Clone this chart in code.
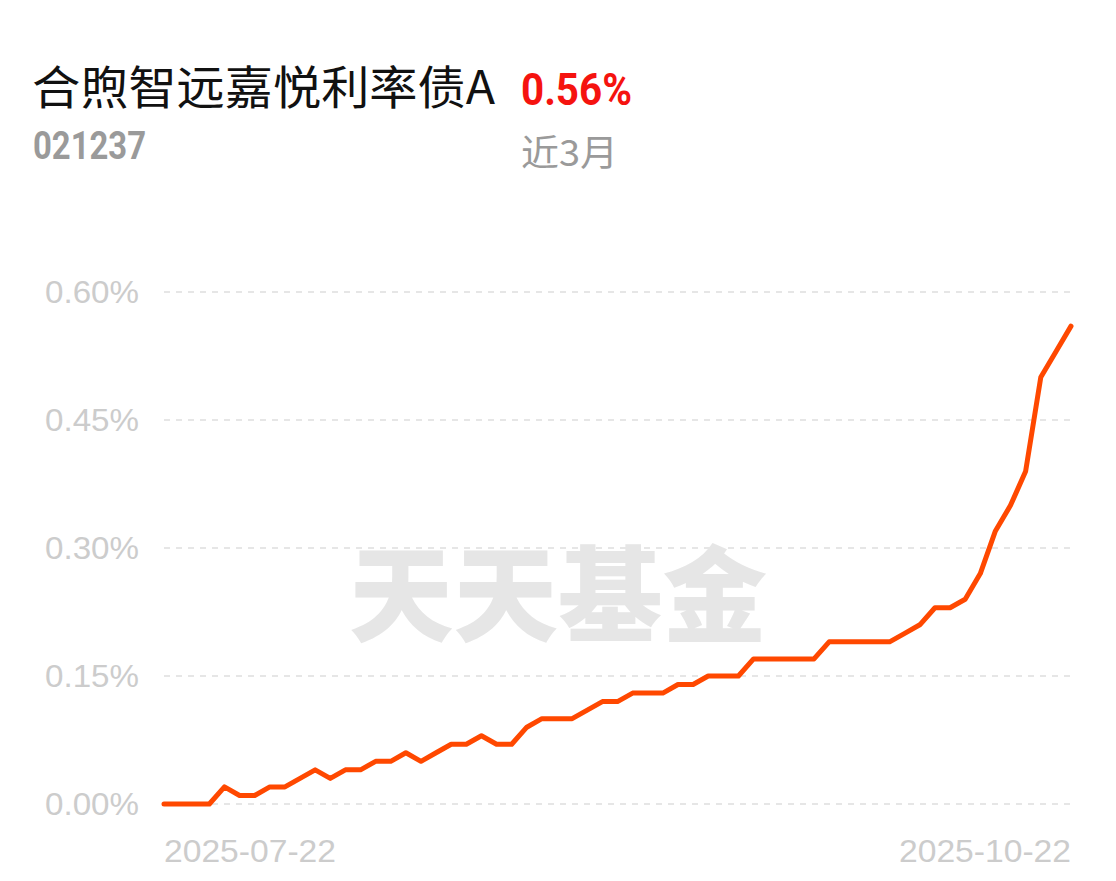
<!DOCTYPE html>
<html>
<head>
<meta charset="utf-8">
<script src="https://cdn.jsdelivr.net/npm/d3@7"></script>
<style>
  html, body { margin: 0; padding: 0; background: #fff; }
  svg { display: block; }
</style>
</head>
<body>
<div id="chart"></div>
<script>
// fund info
const fundName = "合煦智远嘉悦利率债A";
const fundCode = "021237";
const periodReturn = "0.56%";
const periodLabel = "近3月";

// cumulative return (%) per trading day, 2025-07-22 .. 2025-10-22
const returns = [
  0, 0, 0, 0, 0.02, 0.01, 0.01, 0.02, 0.02, 0.03,
  0.04, 0.03, 0.04, 0.04, 0.05, 0.05, 0.06, 0.05, 0.06, 0.07,
  0.07, 0.08, 0.07, 0.07, 0.09, 0.10, 0.10, 0.10, 0.11, 0.12,
  0.12, 0.13, 0.13, 0.13, 0.14, 0.14, 0.15, 0.15, 0.15, 0.17,
  0.17, 0.17, 0.17, 0.17, 0.19, 0.19, 0.19, 0.19, 0.19, 0.20,
  0.21, 0.23, 0.23, 0.24, 0.27, 0.32, 0.35, 0.39, 0.50, 0.53,
  0.56
];
const yTicks = [0, 0.15, 0.30, 0.45, 0.60];
const xLabels = ["2025-07-22", "2025-10-22"];

const width = 1116;
const height = 881;
const margin = { left: 164, right: 45, top: 292, bottom: 77 };

const svg = d3
  .select("#chart")
  .append("svg")
  .attr("width", width)
  .attr("height", height);

const x = d3
  .scaleLinear()
  .domain([0, returns.length - 1])
  .range([margin.left, width - margin.right]);

const y = d3
  .scaleLinear()
  .domain([0, 0.6])
  .range([height - margin.bottom, margin.top]);

// header
svg
  .append("text")
  .attr("x", 32)
  .attr("y", 104)
  .attr("font-family", "'Noto Sans CJK SC', 'Noto Sans', sans-serif")
  .attr("font-size", 46)
  .attr("textLength", 463)
  .attr("lengthAdjust", "spacingAndGlyphs")
  .attr("fill", "#111")
  .text(fundName);

svg
  .append("text")
  .attr("x", 521)
  .attr("y", 105)
  .attr("font-family", "Roboto, 'Noto Sans', sans-serif")
  .attr("font-weight", "bold")
  .attr("font-size", 45)
  .attr("textLength", 111)
  .attr("lengthAdjust", "spacingAndGlyphs")
  .attr("fill", "#f5130f")
  .text(periodReturn);

svg
  .append("text")
  .attr("x", 33)
  .attr("y", 159)
  .attr("font-family", "Roboto, 'Noto Sans', sans-serif")
  .attr("font-weight", "bold")
  .attr("font-size", 38)
  .attr("textLength", 113)
  .attr("lengthAdjust", "spacingAndGlyphs")
  .attr("fill", "#9a9a9a")
  .text(fundCode);

svg
  .append("text")
  .attr("x", 521)
  .attr("y", 166)
  .attr("font-family", "'Noto Sans CJK SC', sans-serif")
  .attr("font-size", 36)
  .attr("textLength", 97)
  .attr("lengthAdjust", "spacingAndGlyphs")
  .attr("fill", "#9a9a9a")
  .text(periodLabel);

// watermark
svg
  .append("text")
  .attr("x", 558)
  .attr("y", 634)
  .attr("text-anchor", "middle")
  .attr("font-family", "'Noto Sans CJK SC', sans-serif")
  .attr("font-weight", 900)
  .attr("font-size", 104)
  .attr("textLength", 418)
  .attr("lengthAdjust", "spacingAndGlyphs")
  .attr("fill", "#e6e6e6")
  .text("天天基金");

// grid + y labels
const yAxis = svg.append("g").attr("class", "y-axis");

yAxis
  .selectAll("line")
  .data(yTicks)
  .enter()
  .append("line")
  .attr("x1", margin.left)
  .attr("x2", width - margin.right)
  .attr("y1", (d) => y(d))
  .attr("y2", (d) => y(d))
  .attr("stroke", "#e6e6e6")
  .attr("stroke-width", 2)
  .attr("stroke-dasharray", "6,6");

yAxis
  .selectAll("text")
  .data(yTicks)
  .enter()
  .append("text")
  .attr("x", 139)
  .attr("y", (d) => y(d) + 11)
  .attr("text-anchor", "end")
  .attr("font-family", "'Liberation Sans', Arial, sans-serif")
  .attr("font-size", 31)
  .attr("textLength", 94)
  .attr("lengthAdjust", "spacingAndGlyphs")
  .attr("fill", "#cccccc")
  .text((d) => d3.format(".2f")(d) + "%");

// x labels
svg
  .selectAll(".x-label")
  .data(xLabels)
  .enter()
  .append("text")
  .attr("class", "x-label")
  .attr("x", (d, i) => (i === 0 ? x(0) : x(returns.length - 1)))
  .attr("y", 862)
  .attr("text-anchor", (d, i) => (i === 0 ? "start" : "end"))
  .attr("font-family", "'Liberation Sans', Arial, sans-serif")
  .attr("font-size", 31)
  .attr("textLength", 172)
  .attr("lengthAdjust", "spacingAndGlyphs")
  .attr("fill", "#cccccc")
  .text((d) => d);

// line
const line = d3
  .line()
  .x((d, i) => x(i))
  .y((d) => y(d));

svg
  .append("path")
  .datum(returns)
  .attr("d", line)
  .attr("fill", "none")
  .attr("stroke", "#ff4800")
  .attr("stroke-width", 5)
  .attr("stroke-linecap", "round")
  .attr("stroke-linejoin", "round");
</script>
</body>
</html>
